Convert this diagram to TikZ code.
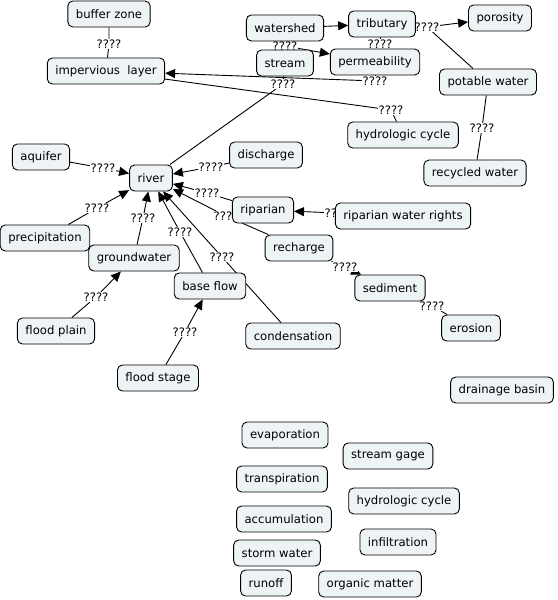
\documentclass[tikz,border=0pt]{standalone}
\usepackage{fontspec}
\setmainfont{DejaVu Sans}
\usetikzlibrary{arrows.meta,backgrounds}
\definecolor{conceptfill}{RGB}{238,244,246}
\tikzset{
  concept/.style={draw, rounded corners=5bp, fill=conceptfill, line width=0.9bp,
    minimum height=26bp, inner xsep=8bp, font=\fontsize{11.7}{14}\selectfont},
  phrase/.style={fill=white, inner sep=0.5bp, font=\fontsize{11.7}{14}\selectfont},
  link/.style={line width=0.9bp},
  linkto/.style={line width=0.9bp, -{Triangle[length=10bp,width=9bp]}}
}
\begin{document}
\begin{tikzpicture}[x=1bp, y=-1bp]
  \useasboundingbox (0,0) rectangle (558,600);
  % linking phrases
  \node[phrase] (lbuf)   at (109,44)  {????};
  \node[phrase] (lwat)   at (285,46)  {????};
  \node[phrase] (ltrib)  at (380,44)  {????};
  \node[phrase] (lpor)   at (427,27)  {????};
  \node[phrase] (lpot)   at (482,128) {????};
  \node[phrase] (lperm)  at (375,81)  {????};
  \node[phrase] (lstr)   at (283,84)  {????};
  \node[phrase] (lhyd)   at (391,110) {????};
  \node[phrase] (laqu)   at (103,168) {????};
  \node[phrase] (ldis)   at (211,167) {????};
  \node[phrase] (lrip)   at (207,193) {????};
  \node[phrase] (lrec)   at (226,216) {????};
  \node[phrase] (lrwr)   at (337,213) {????};
  \node[phrase] (lpre)   at (97,208)  {????};
  \node[phrase] (lgro)   at (143,218) {????};
  \node[phrase] (lbas)   at (180,232) {????};
  \node[phrase] (lcon)   at (222,257) {????};
  \node[phrase] (lpla)   at (96,297)  {????};
  \node[phrase] (lsta)   at (185,332) {????};
  \node[phrase] (lsed)   at (345,267) {????};
  \node[phrase] (lero)   at (432,306) {????};
  % concepts
  \node[concept] (bufferzone)   at (109,14)  {buffer zone};
  \node[concept] (impervious)   at (106,71)  {impervious~ layer};
  \node[concept] (watershed)    at (285,28)  {watershed};
  \node[concept] (tributary)    at (382,24)  {tributary};
  \node[concept] (porosity)     at (500,18)  {porosity};
  \node[concept] (stream)       at (285,63)  {stream};
  \node[concept] (permeability) at (375,62)  {permeability};
  \node[concept] (potable)      at (488,82)  {potable water};
  \node[concept] (hydrologic)   at (403,135) {hydrologic cycle};
  \node[concept] (recycled)     at (475,173) {recycled water};
  \node[concept] (aquifer)      at (41,157)  {aquifer};
  \node[concept] (river)        at (151,178) {river};
  \node[concept] (discharge)    at (266,155) {discharge};
  \node[concept] (riparian)     at (263,210) {riparian};
  \node[concept] (riparianwr)   at (403,216) {riparian water rights};
  \node[concept] (precip)       at (45,238)  {precipitation};
  \node[concept] (groundwater)  at (134,258) {groundwater};
  \node[concept] (recharge)     at (299,248) {recharge};
  \node[concept] (baseflow)     at (210,286) {base flow};
  \node[concept] (sediment)     at (390,288) {sediment};
  \node[concept] (floodplain)   at (56,331)  {flood plain};
  \node[concept] (condensation) at (293,336) {condensation};
  \node[concept] (erosion)      at (471,328) {erosion};
  \node[concept] (floodstage)   at (158,378) {flood stage};
  \node[concept] (drainage)     at (502,390) {drainage basin};
  \node[concept] (evaporation)  at (285,435) {evaporation};
  \node[concept] (streamgage)   at (388,456) {stream gage};
  \node[concept] (transpiration) at (282,479) {transpiration};
  \node[concept] (hydrologicb)  at (404,501) {hydrologic cycle};
  \node[concept] (accumulation) at (284,519) {accumulation};
  \node[concept] (infiltration) at (398,542) {infiltration};
  \node[concept] (stormwater)   at (277,553) {storm water};
  \node[concept] (runoff)       at (266,583) {runoff};
  \node[concept] (organic)      at (370,584) {organic matter};
  % links
  \begin{scope}[on background layer]
    \draw[link] (bufferzone) -- (lbuf) -- (impervious);
    \draw[linkto] (watershed) -- (tributary);
    \draw[link] (watershed) -- (lwat);
    \draw[linkto] (lwat) -- (permeability);
    \draw[link] (tributary) -- (ltrib) -- (permeability);
    \draw[link] (tributary) -- (lpor);
    \draw[linkto] (lpor) -- (porosity);
    \draw[link] (lpor) -- (potable);
    \draw[link] (potable) -- (lpot) -- (recycled);
    \draw[link] (permeability) -- (lperm);
    \draw[linkto] (lperm) -- (impervious);
    \draw[link] (stream) -- (lstr) -- (river);
    \draw[link] (impervious) -- (lhyd) -- (hydrologic);
    \draw[link] (aquifer) -- (laqu);
    \draw[linkto] (laqu) -- (river);
    \draw[link] (discharge) -- (ldis);
    \draw[linkto] (ldis) -- (river);
    \draw[link] (riparian) -- (lrip);
    \draw[linkto] (lrip) -- (river);
    \draw[link] (recharge) -- (lrec);
    \draw[linkto] (lrec) -- (river);
    \draw[link] (riparianwr) -- (lrwr);
    \draw[linkto] (lrwr) -- (riparian);
    \draw[link] (precip) -- (lpre);
    \draw[linkto] (lpre) -- (river);
    \draw[link] (groundwater) -- (lgro);
    \draw[linkto] (lgro) -- (river);
    \draw[link] (baseflow) -- (lbas);
    \draw[linkto] (lbas) -- (river);
    \draw[link] (condensation) -- (lcon);
    \draw[linkto] (lcon) -- (river);
    \draw[link] (floodplain) -- (lpla);
    \draw[linkto] (lpla) -- (groundwater);
    \draw[link] (floodstage) -- (lsta);
    \draw[linkto] (lsta) -- (baseflow);
    \draw[link] (recharge) -- (lsed);
    \draw[linkto] (lsed) -- (sediment);
    \draw[link] (sediment) -- (lero) -- (erosion);
  \end{scope}
\end{tikzpicture}
\end{document}
